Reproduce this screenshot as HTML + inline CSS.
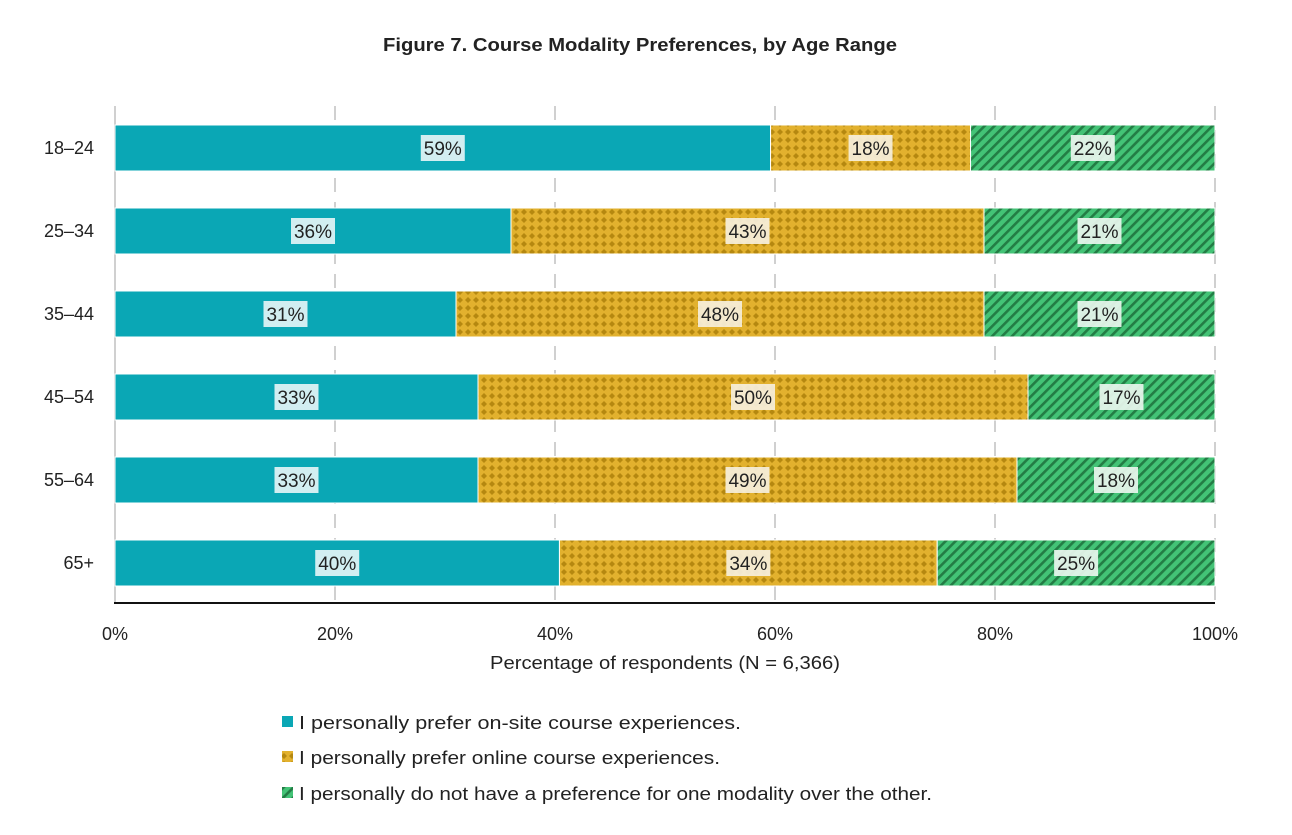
<!DOCTYPE html>
<html><head><meta charset="utf-8"><style>
body{margin:0;background:#fff;width:1292px;height:830px;overflow:hidden;font-family:"Liberation Sans",sans-serif}
</style></head><body>
<svg id="chart" width="1292" height="830" xmlns="http://www.w3.org/2000/svg">
<defs>
<pattern id="dia" width="8" height="8" patternUnits="userSpaceOnUse">
<rect width="8" height="8" fill="#e2b12e"/>
<path d="M4 1 L7 4 L4 7 L1 4Z" fill="#b58810"/>
</pattern>
<pattern id="str" width="7" height="7" patternUnits="userSpaceOnUse" patternTransform="rotate(45)">
<rect width="7" height="7" fill="#43c376"/>
<rect width="2.6" height="7" fill="#237d45"/>
</pattern>
</defs>
<text x="640" y="51" text-anchor="middle" font-size="18" font-weight="bold" fill="#222" textLength="514" lengthAdjust="spacingAndGlyphs">Figure 7. Course Modality Preferences, by Age Range</text>
<g id="grid"></g><g id="bars"></g><g id="axes"></g>
<text x="665" y="669" text-anchor="middle" font-size="18" fill="#222" textLength="350" lengthAdjust="spacingAndGlyphs">Percentage of respondents (N = 6,366)</text>
<g font-size="18" fill="#222">
<rect x="282" y="716" width="11" height="11" fill="#0aa7b5"/>
<text x="299" y="729" textLength="442" lengthAdjust="spacingAndGlyphs">I personally prefer on-site course experiences.</text>
<rect x="282" y="751" width="11" height="11" fill="url(#dia)"/>
<text x="299" y="764" textLength="421" lengthAdjust="spacingAndGlyphs">I personally prefer online course experiences.</text>
<rect x="282" y="787" width="11" height="11" fill="url(#str)"/>
<text x="299" y="800" textLength="633" lengthAdjust="spacingAndGlyphs">I personally do not have a preference for one modality over the other.</text>
</g>
</svg>
<script>
const categories=["18–24","25–34","35–44","45–54","55–64","65+"];
const onsite=[59,36,31,33,33,40];
const online=[18,43,48,50,49,34];
const nopref=[22,21,21,17,18,25];
const ticks=[0,20,40,60,80,100];
const NS="http://www.w3.org/2000/svg";
const X0=115,X1=1215,Y0=148,STEP=83,BH=46;
const xs=p=>X0+(X1-X0)*p/100;
const yc=i=>Y0+i*STEP;
function el(t,a,p){const e=document.createElementNS(NS,t);for(const k in a)e.setAttribute(k,a[k]);p.appendChild(e);return e;}
const grid=document.getElementById('grid'),bars=document.getElementById('bars'),axes=document.getElementById('axes');
ticks.forEach(t=>{
 const l=el('line',{x1:xs(t),x2:xs(t),y1:106,y2:602,stroke:'#d0d0d0','stroke-width':2,'stroke-dasharray':t===0?'none':'14,10'},grid);
 
 
 const tx=el('text',{x:xs(t),y:640,'text-anchor':'middle','font-size':18,fill:'#222'},axes);
 tx.textContent=t+'%';
 
 
});
const ax=el('line',{x1:X0-1,x2:X1,y1:603,y2:603,stroke:'#111','stroke-width':2},axes);


const series=[[onsite,'#0aa7b5','onsite','#e4f4f6'],[online,'url(#dia)','online','#f6efdc'],[nopref,'url(#str)','nopref','#e9f6ee']];
categories.forEach((c,i)=>{
 const lab=el('text',{x:94,y:yc(i)+6,'text-anchor':'end','font-size':18,fill:'#222'},axes);
 lab.textContent=c;
 
 
 const tot=onsite[i]+online[i]+nopref[i];
 let acc=0;
 series.forEach(([arr,fill,nm,bg])=>{
  const v=arr[i],a=xs(acc/tot*100),b=xs((acc+v)/tot*100);acc+=v;
  const r=el('rect',{x:a,y:yc(i)-BH/2,width:b-a,height:BH,fill:fill,stroke:'#fff','stroke-width':1},bars);
  
  
  const m=(a+b)/2;
  const bx=el('rect',{x:m-22,y:yc(i)-13,width:44,height:26,fill:bg,opacity:0.92},bars);
  
  
  const t=el('text',{x:m,y:yc(i)+7,'text-anchor':'middle','font-size':19,fill:'#222'},bars);
  t.textContent=v+'%';
  
  
 });
});
</script>
</body></html>
